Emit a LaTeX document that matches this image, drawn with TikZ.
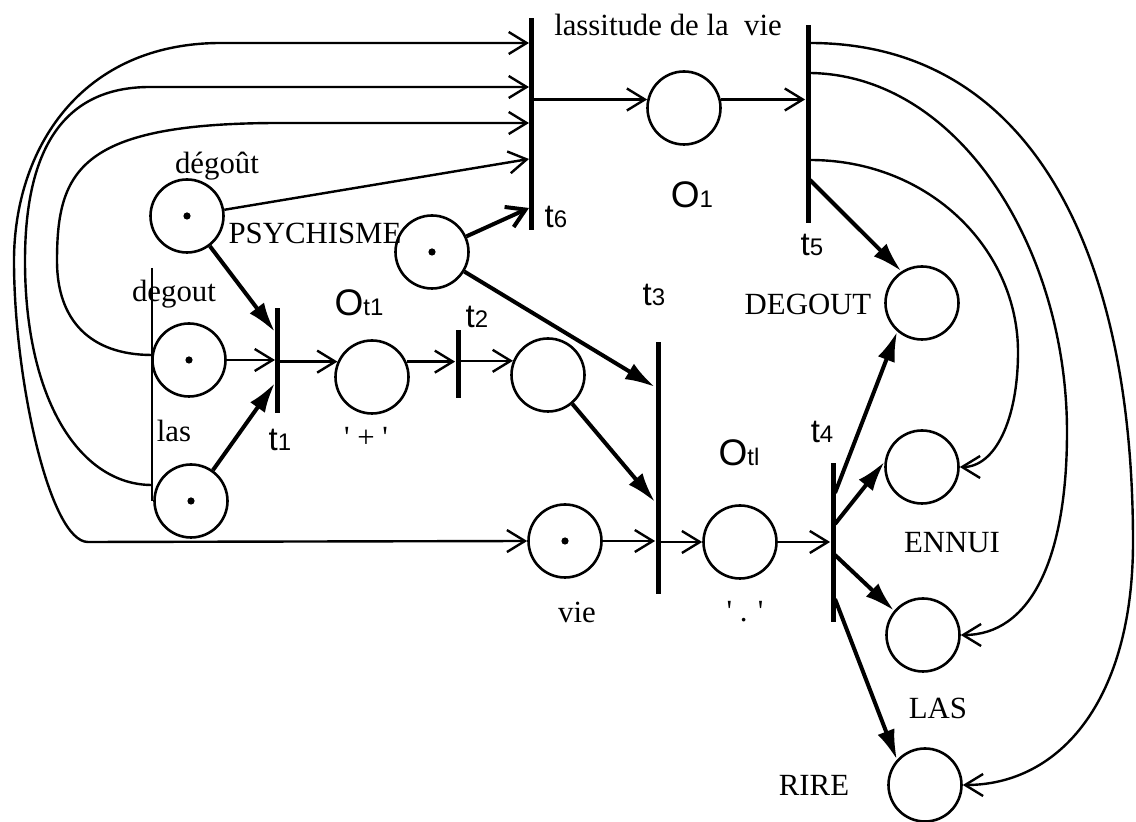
\documentclass[tikz,border=0pt]{standalone}
\usepackage{fontspec}
\setmainfont{Liberation Serif}
\newfontfamily\lsans{Liberation Sans}
\newfontfamily\qserif[Ligatures=TeXOff]{Liberation Serif}
\usetikzlibrary{arrows.meta}
\newcommand{\tsub}[2]{#1{\fontsize{12}{12}\selectfont #2}}
\begin{document}
\begin{tikzpicture}[x=0.5pt,y=-0.5pt,
  place/.style={circle, draw, line width=1.3pt, minimum size=36.5pt, inner sep=0pt},
  trans/.style={rectangle, fill=black, inner sep=0pt, minimum width=2.5pt},
  arc/.style={line width=1.2pt, -{Straight Barb[length=9pt,width=11pt]}},
  biarc/.style={line width=1.2pt, {Straight Barb[length=9pt,width=11pt]}-{Straight Barb[length=9pt,width=11pt]}},
  heavy/.style={line width=2pt, -{Latex[length=15pt,width=9pt]}},
  lab/.style={font=\fontsize{15.4}{17}\selectfont, inner sep=0pt},
  tlab/.style={font=\lsans\fontsize{16.5}{18}\selectfont, inner sep=0pt},
  olab/.style={font=\lsans\fontsize{18.5}{20}\selectfont, inner sep=0pt}]
\useasboundingbox (0,0) rectangle (1136,822);

% places
\node[place] (pA)    at (187,216) {};
\node[place] (pPsy)  at (432,252) {};
\node[place] (pB)    at (189,360) {};
\node[place] (pC)    at (191,501) {};
\node[place] (pOt1)  at (372,377) {};
\node[place] (pP2)   at (548,375) {};
\node[place] (pVie)  at (565,541) {};
\node[place] (pO1)   at (684,108) {};
\node[place] (pOtl)  at (740,542) {};
\node[place] (pDEG)  at (922,303) {};
\node[place] (pENN)  at (922,467) {};
\node[place] (pLAS)  at (923,635) {};
\node[place] (pRIRE) at (925,785) {};
\foreach \p in {pA,pPsy,pB,pC,pVie} \fill (\p) circle (1.8pt);

% transitions
\node[trans, minimum height=106pt]  (t6) at (531,124) {};
\node[trans, minimum height=99pt]   (t5) at (808,124) {};
\node[trans, minimum height=52.5pt] (t1) at (277,360.5) {};
\node[trans, minimum height=34pt]   (t2) at (458,364) {};
\node[trans, minimum height=126pt]  (t3) at (658,468) {};
\node[trans, minimum height=79.5pt] (t4) at (833,542.5) {};

% labels
\node[lab] (Llass) at (668,25) {lassitude de la\ \ vie};
\node[lab] (Ldeg1) at (217,166) {dégoût};
\node[lab] (Lpsy)  at (315,233) {PSYCHISME};
\node[lab] (Ldeg2) at (174,294) {degout};
\node[lab] (Llas)  at (174,431) {las};
\node[lab] (Lplus) at (366,437) {\qserif ' + '};
\node[lab] (Lvie)  at (577,612) {vie};
\node[lab] (Ldot)  at (745,612) {\qserif ' . '};
\node[lab] (LDEG)  at (808,304) {DEGOUT};
\node[lab] (LENN)  at (952,543) {ENNUI};
\node[lab] (LLAS)  at (938,708) {LAS};
\node[lab] (LRIRE) at (814,785) {RIRE};
\node[tlab] (Lt6) at (556,217) {\tsub{t}{6}};
\node[tlab] (Lt5) at (812,245) {\tsub{t}{5}};
\node[tlab] (Lt3) at (654,295) {\tsub{t}{3}};
\node[tlab] (Lt4) at (822,432) {\tsub{t}{4}};
\node[tlab] (Lt1) at (280,440) {\tsub{t}{1}};
\node[tlab] (Lt2) at (477,317) {\tsub{t}{2}};
\node[olab] (LO1)  at (692,195) {\tsub{O}{1}};
\node[olab] (LOt1) at (359,303) {\tsub{O}{t1}};
\node[olab] (LOtl) at (739,453) {\tsub{O}{tl}};

% ports
\coordinate (t6a) at (529,43);
\coordinate (t6b) at (529,87);
\coordinate (t6c) at (529,123);
\coordinate (t6d) at (529,159);
\coordinate (t6e) at (529,208);
\coordinate (lasTap) at (152,485);
\coordinate (degTap) at (152,355);
\coordinate (vtop) at (152,268);
\coordinate (t1a) at (275,360);
\coordinate (t1b) at (275,332);
\coordinate (t1c) at (275,383);
\coordinate (t3a) at (655,387);
\coordinate (t3b) at (655,502);
\coordinate (t4a) at (835,493);
\coordinate (t4b) at (835,524);
\coordinate (t4c) at (835,555);
\coordinate (t4d) at (835,599);
\coordinate (t5a) at (810,43);
\coordinate (t5b) at (810,73);
\coordinate (t5c) at (810,160);
\coordinate (t5d) at (810,180);

% left side
\draw[line width=1pt] (vtop) -- (vtop |- pC.west);
\draw[biarc] (pVie.west) -- (88,542) .. controls (50,542) and (14,380) .. (14,261)
   .. controls (14,150) and (80,43) .. (221,43) -- (t6a);
\draw[arc] (lasTap) .. controls (80,485) and (25,400) .. (25,261)
   .. controls (25,140) and (70,87) .. (150,87) -- (t6b);
\draw[arc] (degTap) .. controls (90,355) and (57,320) .. (57,261)
   .. controls (57,170) and (80,123) .. (280,123) -- (t6c);
\draw[arc] (pA) -- (t6d);
\draw[arc, line width=2pt] (pPsy) -- (t6e);

% t1, t2
\draw[arc] (pB) -- (t1a);
\draw[heavy] (pA) -- (t1b);
\draw[heavy] (pC) -- (t1c);
\draw[arc] (t1.east |- pOt1.156) -- (pOt1.156);
\draw[arc] (pOt1.24) -- (t2.west |- pOt1.24);
\draw[arc] (t2.east |- pP2.158) -- (pP2.158);

% t3
\draw[heavy] (pPsy) -- (t3a);
\draw[heavy] (pP2) -- (t3b);
\draw[arc] (pVie) -- (t3.west |- pVie);
\draw[arc] (t3.east |- pOtl) -- (pOtl);
\draw[arc] (pOtl) -- (t4.west |- pOtl);

% t4 outputs
\draw[heavy] (t4a) -- (pDEG.229);
\draw[heavy] (t4b) -- (pENN.172);
\draw[heavy] (t4c) -- (pLAS.140);
\draw[heavy] (t4d) -- (pRIRE.138);

% t6 -> O1 -> t5
\draw[arc] (t6.east |- pO1.167) -- (pO1.167);
\draw[arc] (pO1.13) -- (t5.west |- pO1.13);

% t5 outputs
\draw[heavy] (t5d) -- (pDEG.123);
\draw[arc] (t5c) .. controls (930,160) and (1018,250) .. (1018,352)
   .. controls (1018,420) and (995,467) .. (pENN.east);
\draw[arc] (t5b) .. controls (960,75) and (1067,250) .. (1067,432)
   .. controls (1067,560) and (1030,635) .. (pLAS.east);
\draw[arc] (t5a) .. controls (1030,43) and (1133,250) .. (1133,542)
   .. controls (1133,700) and (1060,785) .. (pRIRE.east);
\end{tikzpicture}
\end{document}
